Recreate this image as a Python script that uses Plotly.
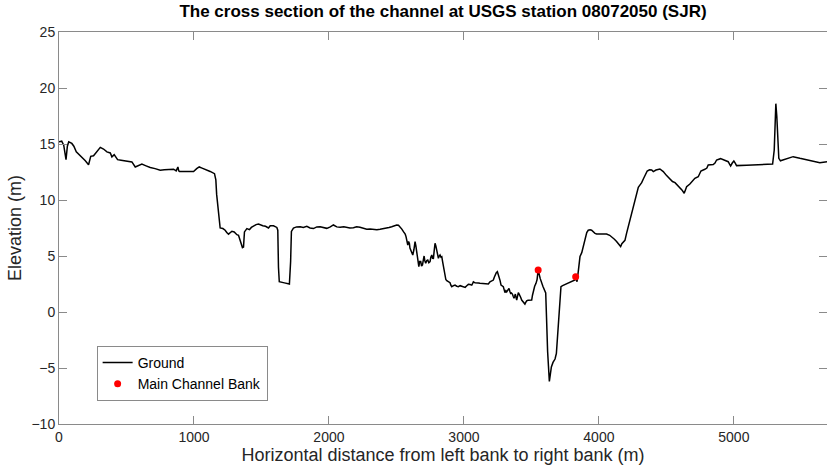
import plotly.graph_objects as go

# Surveyed ground profile across the channel (distance from left bank, elevation)
distance_m = [
    0, 20, 35, 52, 62, 72, 95, 110, 128, 150, 170, 195, 219, 226, 235, 256, 280, 306, 330, 355,
    380, 392, 409, 422, 434, 460, 491, 515, 540, 565, 590, 614, 645, 676, 712, 750, 780, 812, 849, 868,
    875, 881, 887, 893, 948, 997, 1020, 1039, 1060, 1083, 1120, 1152, 1162, 1168, 1175, 1182, 1187, 1194, 1214, 1231,
    1243, 1256, 1270, 1281, 1298, 1318, 1330, 1342, 1352, 1359, 1367, 1374, 1392, 1411, 1425, 1441, 1460, 1478, 1495, 1510,
    1530, 1540, 1552, 1565, 1589, 1614, 1621, 1626, 1632, 1670, 1707, 1716, 1722, 1737, 1760, 1787, 1810, 1836, 1860, 1885,
    1910, 1935, 1960, 1984, 2010, 2033, 2058, 2083, 2110, 2132, 2155, 2181, 2205, 2230, 2255, 2280, 2305, 2329, 2355, 2379,
    2404, 2428, 2445, 2465, 2485, 2502, 2515, 2527, 2540, 2552, 2565, 2571, 2578, 2584, 2590, 2596, 2600, 2606, 2613, 2621,
    2630, 2638, 2644, 2651, 2658, 2666, 2672, 2680, 2686, 2693, 2700, 2705, 2710, 2717, 2725, 2732, 2740, 2749, 2755, 2762,
    2768, 2774, 2780, 2786, 2792, 2798, 2805, 2811, 2817, 2823, 2830, 2836, 2842, 2848, 2855, 2860, 2866, 2873, 2885, 2897,
    2903, 2910, 2922, 2934, 2947, 2959, 2972, 2984, 2996, 3009, 3021, 3033, 3046, 3058, 3065, 3070, 3083, 3095, 3107, 3119,
    3140, 3156, 3170, 3181, 3193, 3205, 3218, 3225, 3230, 3240, 3248, 3254, 3260, 3268, 3275, 3283, 3292, 3298, 3304, 3311,
    3317, 3325, 3334, 3340, 3346, 3352, 3359, 3365, 3371, 3376, 3381, 3386, 3391, 3397, 3403, 3409, 3415, 3421, 3428, 3434,
    3440, 3446, 3452, 3458, 3465, 3475, 3485, 3494, 3502, 3508, 3514, 3524, 3534, 3542, 3550, 3565, 3585, 3606, 3612, 3620,
    3633, 3640, 3648, 3660, 3675, 3685, 3700, 3719, 3731, 3760, 3798, 3823, 3828, 3838, 3848, 3860, 3873, 3885, 3897, 3910,
    3921, 3935, 3946, 3958, 3971, 3983, 4010, 4032, 4057, 4080, 4094, 4115, 4131, 4150, 4161, 4170, 4182, 4193, 4205, 4218,
    4230, 4243, 4255, 4267, 4280, 4292, 4305, 4317, 4330, 4341, 4358, 4375, 4391, 4403, 4423, 4452, 4465, 4477, 4500, 4527,
    4545, 4564, 4580, 4600, 4615, 4632, 4642, 4650, 4674, 4690, 4711, 4736, 4745, 4756, 4785, 4800, 4810, 4847, 4860, 4872,
    4901, 4934, 4958, 4968, 4976, 4988, 5000, 5010, 5020, 5094, 5193, 5287, 5299, 5305, 5311, 5318, 5326, 5333, 5345, 5365,
    5402, 5439, 5489, 5563, 5637, 5690,
]
elevation_m = [
    15.2, 15.25, 14.9, 13.6, 14.8, 15.2, 15.05, 14.8, 14.3, 14.05, 13.8, 13.5, 13.15, 13.5, 13.9, 13.95, 14.3, 14.7, 14.55, 14.3,
    14.2, 13.85, 14.05, 13.75, 13.6, 13.55, 13.5, 13.4, 13.4, 12.95, 13.05, 13.2, 13.05, 12.9, 12.8, 12.65, 12.7, 12.75, 12.75, 12.6,
    12.9, 12.95, 12.6, 12.55, 12.55, 12.55, 12.8, 12.95, 12.85, 12.75, 12.55, 12.35, 11.8, 10.5, 9.7, 9.1, 8.3, 7.5, 7.45, 7.3,
    7.1, 6.95, 7.1, 7.2, 7.15, 6.9, 6.85, 6.45, 6.0, 5.75, 5.8, 7.15, 7.45, 7.35, 7.55, 7.7, 7.8, 7.85, 7.75, 7.7,
    7.65, 7.6, 7.5, 7.7, 7.7, 7.55, 7.3, 4.0, 2.7, 2.6, 2.5, 4.5, 7.2, 7.5, 7.6, 7.62, 7.55, 7.65, 7.5, 7.45,
    7.6, 7.62, 7.55, 7.47, 7.6, 7.77, 7.6, 7.56, 7.62, 7.56, 7.5, 7.53, 7.6, 7.56, 7.45, 7.38, 7.42, 7.38, 7.35, 7.38,
    7.42, 7.47, 7.55, 7.62, 7.7, 7.77, 7.75, 7.62, 7.4, 7.17, 6.95, 6.73, 6.4, 5.98, 6.3, 6.12, 5.7, 5.54, 5.3, 5.09,
    5.6, 6.28, 5.9, 5.24, 4.6, 4.05, 4.5, 4.5, 4.1, 4.2, 4.7, 5.0, 4.6, 4.35, 4.6, 4.64, 4.4, 4.5, 4.9, 5.09,
    4.8, 4.79, 5.5, 6.13, 5.9, 5.54, 5.1, 4.79, 5.0, 5.09, 4.9, 4.94, 4.5, 4.05, 3.6, 3.15, 2.9, 2.8, 2.7, 2.62,
    2.4, 2.26, 2.35, 2.4, 2.3, 2.26, 2.35, 2.32, 2.25, 2.2, 2.35, 2.47, 2.45, 2.4, 2.55, 2.7, 2.6, 2.56, 2.58, 2.56,
    2.52, 2.5, 2.52, 2.5, 2.7, 2.75, 2.85, 3.1, 3.3, 3.5, 3.6, 3.4, 3.15, 2.8, 2.4, 2.35, 2.26, 2.0, 1.73, 1.9,
    1.8, 1.95, 2.1, 1.85, 1.66, 1.7, 1.6, 1.4, 1.22, 1.4, 1.6, 1.3, 1.07, 1.4, 1.73, 1.6, 1.5, 1.3, 1.07, 0.95,
    0.83, 0.75, 0.71, 0.85, 1.0, 1.05, 1.07, 1.05, 1.07, 1.5, 1.96, 2.3, 2.56, 2.9, 3.75, 3.0, 2.3, 1.7, -0.5, -3.5,
    -6.2, -5.6, -4.9, -4.5, -4.2, -3.7, -1.2, 2.26, 2.35, 2.5, 2.7, 2.86, 3.15, 2.7, 3.7, 4.95, 5.3, 5.9, 6.43, 7.1,
    7.3, 7.35, 7.3, 7.15, 7.02, 6.96, 6.97, 6.96, 6.96, 6.85, 6.73, 6.5, 6.3, 6.05, 5.85, 6.1, 6.25, 6.4, 7.02, 7.62,
    8.2, 8.66, 9.3, 10.0, 10.6, 11.13, 11.35, 11.55, 11.9, 12.23, 12.59, 12.7, 12.68, 12.54, 12.68, 12.77, 12.65, 12.54, 12.2, 11.88,
    11.65, 11.55, 11.35, 11.1, 10.9, 10.6, 10.95, 11.19, 11.43, 11.7, 11.94, 12.08, 12.3, 12.59, 12.74, 12.85, 13.13, 13.16, 13.3, 13.57,
    13.69, 13.57, 13.42, 13.2, 13.04, 13.3, 13.48, 13.3, 13.07, 13.1, 13.13, 13.21, 14.46, 16.5, 18.6, 17.5, 14.5, 13.72, 13.5, 13.57,
    13.72, 13.87, 13.72, 13.5, 13.33, 13.42,
]

# Main channel bank points
bank_x = [3550, 3828]
bank_y = [3.75, 3.15]

x_ticks = [0, 1000, 2000, 3000, 4000, 5000]
y_ticks = [-10, -5, 0, 5, 10, 15, 20, 25]

FONT = "Arial, Liberation Sans, sans-serif"
TEXT = "#262626"
AXIS = "#8a8a8a"

fig = go.Figure()
fig.add_trace(go.Scatter(
    x=distance_m, y=elevation_m, mode="lines", name="Ground",
    line=dict(color="black", width=1.5),
))
fig.add_trace(go.Scatter(
    x=bank_x, y=bank_y, mode="markers", name="Main Channel Bank",
    marker=dict(color="#ff0000", size=7),
))
# Right-hand tick marks of the boxed axes
fig.add_trace(go.Scatter(x=[None], y=[None], yaxis="y2", showlegend=False, hoverinfo="skip"))

fig.update_layout(
    width=827, height=473,
    margin=dict(l=59, r=0, t=32, b=49),
    paper_bgcolor="white", plot_bgcolor="white",
    font=dict(family=FONT, color=TEXT, size=14),
    title=dict(
        text="<b>The cross section of the channel at USGS station 08072050 (SJR)</b>",
        x=0.5, xref="paper", xanchor="center",
        y=1 - 11 / 473, yref="container", yanchor="middle",
        font=dict(size=17, color="black", family=FONT),
    ),
    xaxis=dict(
        range=[0, 5690], tickvals=x_ticks, showgrid=False, zeroline=False,
        showline=True, linecolor=AXIS, linewidth=1, mirror="ticks",
        ticks="inside", ticklen=8, tickcolor=AXIS,
        tickfont=dict(size=14, color=TEXT),
        title=dict(text="Horizontal distance from left bank to right bank (m)",
                   font=dict(size=18, color=TEXT), standoff=3),
    ),
    yaxis=dict(
        range=[-10, 25], tickvals=y_ticks, showgrid=False, zeroline=False,
        showline=True, linecolor=AXIS, linewidth=1, mirror=False,
        ticks="inside", ticklen=8, tickcolor=AXIS,
        tickfont=dict(size=14, color=TEXT),
        title=dict(text="Elevation (m)", font=dict(size=18, color=TEXT), standoff=5),
    ),
    yaxis2=dict(
        overlaying="y", side="right", range=[-10, 25], tickvals=y_ticks,
        showgrid=False, zeroline=False, showline=False, showticklabels=False,
        ticks="inside", ticklen=8, tickcolor=AXIS,
    ),
    legend=dict(
        x=0.049, y=0.199, xanchor="left", yanchor="top",
        bgcolor="white", bordercolor=AXIS, borderwidth=1,
        font=dict(size=14, color="black"), tracegroupgap=0,
    ),
    showlegend=True,
)

fig.write_html("out.html")
